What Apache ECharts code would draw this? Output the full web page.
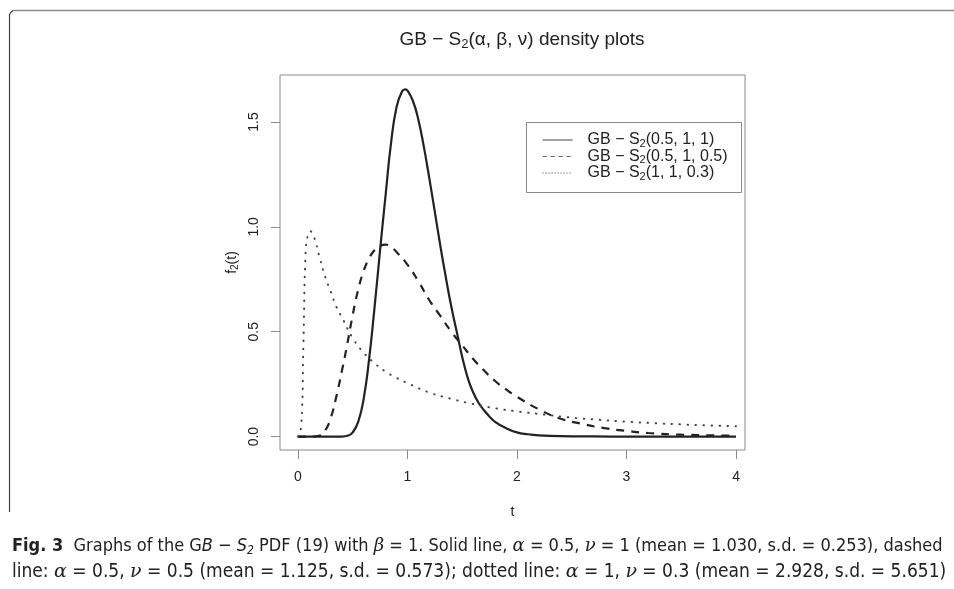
<!DOCTYPE html>
<html>
<head>
<meta charset="utf-8">
<script src="https://cdn.jsdelivr.net/npm/echarts@6/dist/echarts.min.js"></script>
<style>
  html, body { margin: 0; padding: 0; background: #fff; }
  #main { width: 954px; height: 589px; }
</style>
</head>
<body>
<div id="main"></div>
<script>
// values
var xTicks = [0, 1, 2, 3, 4];
var yTicks = [0, 0.5, 1, 1.5];

var solidT = [0, 0.40, 0.46, 0.50, 0.55, 0.60, 0.65, 0.70, 0.75, 0.80, 0.85, 0.90, 0.95, 0.98, 1.00, 1.05, 1.10, 1.15, 1.20, 1.25, 1.30, 1.35, 1.40, 1.45, 1.50, 1.55, 1.60, 1.65, 1.70, 1.75, 1.80, 1.90, 2.00, 2.10, 2.20, 2.40, 2.70, 3.00, 4.00];
var solidF = [0, 0, 0.005, 0.02, 0.07, 0.18, 0.37, 0.62, 0.89, 1.15, 1.40, 1.57, 1.645, 1.655, 1.65, 1.60, 1.51, 1.38, 1.23, 1.07, 0.91, 0.76, 0.62, 0.50, 0.38, 0.28, 0.21, 0.16, 0.125, 0.095, 0.07, 0.04, 0.02, 0.011, 0.006, 0.002, 0.0005, 0, 0];

var dashedT = [0, 0.10, 0.15, 0.20, 0.25, 0.30, 0.35, 0.40, 0.45, 0.50, 0.55, 0.60, 0.65, 0.70, 0.75, 0.80, 0.85, 0.90, 1.00, 1.10, 1.20, 1.30, 1.40, 1.50, 1.60, 1.70, 1.80, 1.90, 2.00, 2.20, 2.40, 2.60, 2.80, 3.00, 3.20, 3.50, 4.00];
var dashedF = [0, 0, 0.001, 0.005, 0.03, 0.09, 0.19, 0.31, 0.44, 0.58, 0.70, 0.79, 0.85, 0.89, 0.91, 0.915, 0.905, 0.88, 0.82, 0.74, 0.65, 0.575, 0.50, 0.435, 0.37, 0.315, 0.265, 0.225, 0.19, 0.13, 0.085, 0.06, 0.04, 0.027, 0.017, 0.009, 0.004];

var dottedT = [0, 0.03, 0.05, 0.07, 0.09, 0.11, 0.13, 0.16, 0.20, 0.25, 0.30, 0.35, 0.40, 0.50, 0.60, 0.70, 0.80, 0.90, 1.00, 1.20, 1.40, 1.60, 1.80, 2.00, 2.25, 2.50, 2.75, 3.00, 3.25, 3.50, 3.75, 4.00];
var dottedF = [0, 0.05, 0.45, 0.88, 0.96, 0.98, 0.97, 0.93, 0.85, 0.76, 0.69, 0.62, 0.57, 0.47, 0.40, 0.35, 0.31, 0.28, 0.255, 0.21, 0.18, 0.155, 0.135, 0.12, 0.105, 0.09, 0.08, 0.071, 0.064, 0.058, 0.053, 0.049];

var names = ['GB \u2212 S2(0.5, 1, 1)', 'GB \u2212 S2(0.5, 1, 0.5)', 'GB \u2212 S2(1, 1, 0.3)'];

function pairs(t, f) {
  return t.map(function (x, i) { return [x, f[i]]; });
}

var font = '"Liberation Sans", Arial, sans-serif';
var capFont = '"DejaVu Sans Condensed", "DejaVu Sans", sans-serif';
var ink = '#222';
var frame = '#8a8a8a';

var myChart = echarts.init(document.getElementById('main'));

var lineBase = {
  type: 'line',
  symbol: 'none',
  smooth: 0.5,
  animation: false
};

myChart.setOption({
  animation: false,
  color: [ink, ink, '#444'],
  textStyle: { fontFamily: font },
  grid: {
    left: 280, top: 75, width: 465, height: 375,
    show: true, borderColor: frame, borderWidth: 1
  },
  xAxis: {
    type: 'value',
    min: -0.164, max: 4.082,
    name: 't',
    nameLocation: 'middle',
    nameGap: 55,
    nameTextStyle: { fontSize: 14, color: ink, fontFamily: font },
    axisLine: { show: false, onZero: false },
    axisTick: { show: true, length: 9, customValues: xTicks, lineStyle: { color: frame } },
    axisLabel: { customValues: xTicks, margin: 20, fontSize: 14, color: ink, fontFamily: font },
    splitLine: { show: false }
  },
  yAxis: {
    type: 'value',
    min: -0.064, max: 1.724,
    name: 'f{sub|2}(t)',
    nameLocation: 'middle',
    nameRotate: 90,
    nameGap: 40,
    nameTextStyle: {
      fontSize: 14, color: ink, fontFamily: font,
      rich: { sub: { fontSize: 10, verticalAlign: 'bottom', padding: [6, 0, 0, 0], color: ink } }
    },
    axisLine: { show: false, onZero: false },
    axisTick: { show: true, length: 9, customValues: yTicks, lineStyle: { color: frame } },
    axisLabel: {
      customValues: yTicks, margin: 19, rotate: 90, fontSize: 14, color: ink, fontFamily: font,
      formatter: function (v) { return v.toFixed(1); }
    },
    splitLine: { show: false }
  },
  legend: {
    left: 542, top: 131,
    orient: 'vertical',
    padding: 0,
    itemWidth: 30, itemHeight: 14, itemGap: -1.5,
    selectedMode: false,
    itemStyle: { opacity: 0 },
    textStyle: {
      fontSize: 16, lineHeight: 16, color: ink, fontFamily: font, padding: [0, 0, 0, 10],
      rich: { sub: { fontSize: 11, lineHeight: 16, padding: [7, 0, 0, 0], color: ink } }
    },
    formatter: function (n) { return n.replace('S2', 'S{sub|2}'); },
    data: [
      { name: names[0], lineStyle: { width: 1.2, color: '#666', type: 'solid' } },
      { name: names[1], lineStyle: { width: 1.2, color: '#666', type: [4, 4] } },
      { name: names[2], lineStyle: { width: 1.2, color: '#999', type: [1, 2] } }
    ]
  },
  graphic: [
    // outer frame of the figure panel
    { type: 'polyline', silent: true, shape: { points: [[9.5, 512], [9.5, 15], [10.5, 12.5], [13, 10.5]] }, style: { stroke: '#444', lineWidth: 1.2, fill: null } },
    { type: 'line', silent: true, shape: { x1: 13, y1: 10.5, x2: 954, y2: 10.5 }, style: { stroke: frame, lineWidth: 1.5 } },
    // legend box
    { type: 'rect', silent: true, shape: { x: 526.5, y: 122.5, width: 215, height: 70 }, style: { stroke: frame, lineWidth: 1, fill: null } },
    {
      type: 'text', silent: true, x: 522, y: 40,
      style: {
        text: 'GB \u2212 S{sub|2}(\u03b1, \u03b2, \u03bd) density plots',
        font: '19px ' + font, fill: ink, align: 'center', verticalAlign: 'middle',
        rich: { sub: { fontSize: 13, padding: [9, 0, 0, 0], fill: ink, fontFamily: font } }
      }
    },
    {
      type: 'text', silent: true, x: 12, y: 546,
      style: {
        text: '{b|Fig. 3}  Graphs of the G{i|B} \u2212 {i|S}{sub|2} PDF (19) with {m|\u03b2} = 1. Solid line, {m|\u03b1} = 0.5, {m|\u03bd} = 1 (mean = 1.030, s.d. = 0.253), dashed',
        font: '18px ' + capFont, fill: ink, verticalAlign: 'middle',
        rich: {
          b: { fontWeight: 'bold', fontSize: 18, fontFamily: capFont, fill: ink },
          i: { fontStyle: 'italic', fontSize: 18, fontFamily: capFont, fill: ink },
          m: { fontStyle: 'italic', fontSize: 18, fontFamily: '"DejaVu Serif", serif', fill: ink },
          sub: { fontSize: 12, padding: [9, 0, 0, 0], fontStyle: 'italic', fontFamily: capFont, fill: ink }
        }
      }
    },
    {
      type: 'text', silent: true, x: 12, y: 572,
      style: {
        text: 'line: {m|\u03b1} = 0.5, {m|\u03bd} = 0.5 (mean = 1.125, s.d. = 0.573); dotted line: {m|\u03b1} = 1, {m|\u03bd} = 0.3 (mean = 2.928, s.d. = 5.651)',
        font: '19px ' + capFont, fill: ink, verticalAlign: 'middle',
        rich: {
          m: { fontStyle: 'italic', fontSize: 19, fontFamily: '"DejaVu Serif", serif', fill: ink }
        }
      }
    }
  ],
  series: [
    Object.assign({}, lineBase, {
      name: names[0], data: pairs(solidT, solidF),
      lineStyle: { color: ink, width: 2.2, type: 'solid' }
    }),
    Object.assign({}, lineBase, {
      name: names[1], data: pairs(dashedT, dashedF),
      lineStyle: { color: ink, width: 2.2, type: [8, 7] }
    }),
    Object.assign({}, lineBase, {
      name: names[2], data: pairs(dottedT, dottedF),
      lineStyle: { color: '#444', width: 2, type: [0.5, 7.5], cap: 'round' }
    })
  ]
});
</script>
</body>
</html>
